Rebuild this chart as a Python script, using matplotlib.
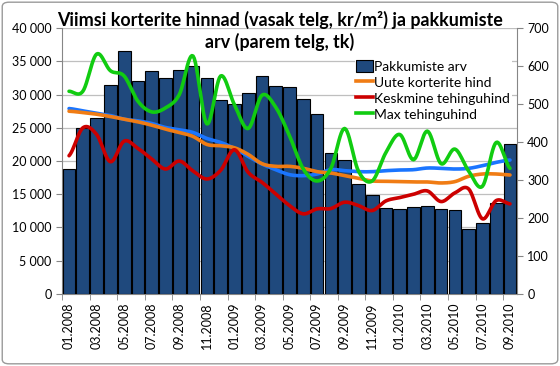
import numpy as np
import matplotlib
matplotlib.use("Agg")
import matplotlib.pyplot as plt
from matplotlib.patches import FancyBboxPatch, Patch
from matplotlib.lines import Line2D
from matplotlib.ticker import FuncFormatter

plt.rcParams['font.family'] = ['Lato', 'DejaVu Sans']

# monthly data 01.2008 .. 09.2010
months = [f"{m:02d}.{y}" for y in (2008, 2009, 2010) for m in range(1, 13)][:33]

pakkumiste_arv = [330, 437, 464, 551, 639, 560, 586, 569, 589, 601, 569, 510,
                  499, 529, 575, 549, 545, 514, 474, 372, 354, 289, 260, 226,
                  223, 229, 231, 224, 220, 171, 187, 240, 396]

uute_hind = [27500, 27300, 27050, 26700, 26300, 25900, 25400, 24800, 24300, 23700, 22500, 22300,
             22000, 21000, 19600, 19200, 19200, 18900, 18400, 18200, 17800, 17400, 17000, 16950,
             16900, 16850, 16850, 16700, 16900, 17700, 18050, 18050, 17900]

keskmine_hind = [20800, 25000, 24000, 19900, 23000, 21900, 20300, 18800, 20000, 18500, 17300, 18600,
                 21700, 18300, 16800, 15050, 13300, 12050, 12800, 12850, 13800, 13300, 12550, 14000,
                 14500, 15000, 15500, 13900, 15200, 15800, 11300, 14050, 13550]

max_hind = [30500, 30500, 36100, 33600, 32800, 29000, 27400, 28000, 30000, 35800, 25600, 32800,
            28500, 24900, 29900, 28100, 23800, 18800, 17000, 18900, 24900, 18500, 17000, 21300,
            24000, 20200, 24500, 19600, 21800, 18500, 16200, 22800, 18900]

trend = [27900, 27550, 27200, 26850, 26300, 26050, 25650, 25050, 24700, 24300, 23400, 22800,
         21900, 20700, 19550, 18700, 17950, 17800, 18050, 18700, 18550, 18400, 18400, 18550,
         18650, 18700, 18950, 18900, 18800, 18900, 19300, 19800, 20150]


def smooth(y, n=12):
    # Catmull-Rom curve through the points, like Excel's smoothed line
    y = np.asarray(y, float)
    x = np.arange(len(y), dtype=float)
    p = np.concatenate([[y[0]], y, [y[-1]]])
    xs, ys = [], []
    t = np.linspace(0, 1, n, endpoint=False)
    for i in range(len(y) - 1):
        p0, p1, p2, p3 = p[i], p[i + 1], p[i + 2], p[i + 3]
        seg = 0.5 * ((2 * p1) + (-p0 + p2) * t + (2 * p0 - 5 * p1 + 4 * p2 - p3) * t ** 2
                     + (-p0 + 3 * p1 - 3 * p2 + p3) * t ** 3)
        xs.extend(x[i] + t)
        ys.extend(seg)
    xs.append(x[-1])
    ys.append(y[-1])
    return np.array(xs), np.array(ys)


fig = plt.figure(figsize=(5.6, 3.66), dpi=100)
fig.patches.append(FancyBboxPatch((0.004, 0.006), 0.992, 0.988, boxstyle="round,pad=0,rounding_size=0.012",
                                  transform=fig.transFigure, fill=False, ec="#9a9a9a", lw=1.0))

ax = fig.add_axes([0.111, 0.197, 0.812, 0.726])
n = len(months)
ax.set_xlim(-0.5, n - 0.5)
ax.set_ylim(0, 40000)
ax.set_yticks(range(0, 40001, 5000))
ax.yaxis.set_major_formatter(FuncFormatter(lambda v, p: f"{int(v):,}".replace(",", " ")))
ax.grid(axis='y', color='#bfbfbf', lw=0.9)
ax.set_axisbelow(True)
ax.set_xticks(range(0, n, 2))
ax.set_xticklabels(months[::2], rotation=90)
ax.set_xticks(np.arange(-0.5, n, 2), minor=True)
ax.tick_params(axis='x', which='major', length=0, pad=6, labelsize=9)
ax.tick_params(axis='x', which='minor', length=4, color='#868686')
ax.tick_params(axis='y', length=4, color='#868686', labelsize=9)
for s in ['top', 'right']:
    ax.spines[s].set_visible(False)
for s in ['left', 'bottom']:
    ax.spines[s].set_color('#868686')

ax2 = ax.twinx()
ax2.bar(np.arange(n), pakkumiste_arv, width=0.92, color='#1f497d', edgecolor='black', lw=0.8)
ax2.set_ylim(0, 700)
ax2.set_yticks(range(0, 701, 100))
ax2.tick_params(axis='y', length=4, color='#868686', labelsize=9)
for s in ['top', 'left', 'bottom']:
    ax2.spines[s].set_visible(False)
ax2.spines['right'].set_color('#868686')

ax3 = ax.twinx()
ax3.set_ylim(0, 40000)
ax3.axis('off')
lw = 2.6
ax3.plot(*smooth(trend), color='#1a75ff', lw=lw, solid_capstyle='round')
ax3.plot(*smooth(uute_hind), color='#f07c14', lw=lw, solid_capstyle='round')
ax3.plot(*smooth(keskmine_hind), color='#cc0000', lw=lw, solid_capstyle='round')
ax3.plot(*smooth(max_hind), color='#11cc11', lw=lw, solid_capstyle='round')

handles = [Patch(facecolor='#1f497d', edgecolor='black', lw=0.8),
           Line2D([], [], color='#f07c14', lw=lw),
           Line2D([], [], color='#cc0000', lw=lw),
           Line2D([], [], color='#11cc11', lw=lw)]
labels = ['Pakkumiste arv', 'Uute korterite hind', 'Keskmine tehinguhind', 'Max tehinguhind']
leg = ax3.legend(handles, labels, loc='upper left', bbox_to_anchor=(0.643, 0.885), frameon=True,
                 fontsize=10, handlelength=1.25, handleheight=0.9, handletextpad=0.08,
                 labelspacing=0.25, borderpad=0.1, borderaxespad=0, fancybox=False)
leg.get_frame().set_edgecolor('none')
leg.get_frame().set_facecolor('white')
leg.get_frame().set_alpha(1)

fig.text(0.5, 0.915, "Viimsi korterite hinnad (vasak telg, kr/m²) ja pakkumiste\narv (parem telg, tk)",
         ha='center', va='center', fontsize=12.9, fontweight='bold', linespacing=1.25)

fig.savefig('out.png', dpi=100)
